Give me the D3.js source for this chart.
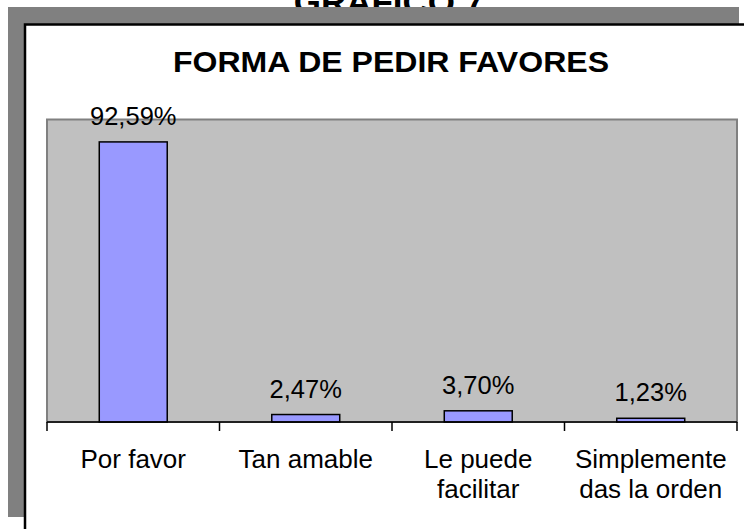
<!DOCTYPE html>
<html>
<head>
<meta charset="utf-8">
<script src="https://cdn.jsdelivr.net/npm/d3@7"></script>
<style>
  body { margin: 0; background: #ffffff; }
  text { font-family: Arial, "Liberation Sans", sans-serif; fill: #000; }
</style>
</head>
<body>
<div id="chart"></div>
<script>
// datos del grafico
var categorias = [["Por favor"], ["Tan amable"], ["Le puede", "facilitar"], ["Simplemente", "das la orden"]]
var valores = [92.59, 2.47, 3.70, 1.23]
var etiquetas = ["92,59%", "2,47%", "3,70%", "1,23%"]
var escalaY = [0, 100]

var width = 744
var height = 529

var svg = d3.select("#chart")
  .append("svg")
  .attr("width", width)
  .attr("height", height)

// titulo de la pagina (queda tapado por la sombra)
svg.append("text")
  .attr("x", 389)
  .attr("y", 14)
  .attr("text-anchor", "middle")
  .style("font-weight", "bold")
  .style("font-size", "35px")
  .text("GRAFICO 7")

// sombra gris y marco
svg.append("rect")
  .attr("x", 8).attr("y", 7)
  .attr("width", 731).attr("height", 510)
  .attr("fill", "#808080")

svg.append("rect")
  .attr("x", 25).attr("y", 24.5)
  .attr("width", 740).attr("height", 520)
  .attr("fill", "#ffffff")
  .attr("stroke", "#000")
  .attr("stroke-width", 2.5)

svg.append("text")
  .attr("x", 391)
  .attr("y", 72)
  .attr("text-anchor", "middle")
  .attr("textLength", 436)
  .attr("lengthAdjust", "spacingAndGlyphs")
  .style("font-weight", "bold")
  .style("font-size", "30px")
  .text("FORMA DE PEDIR FAVORES")

var margin = {top: 119.5, left: 47, right: 7, bottom: 107}
var plotW = width - margin.left - margin.right
var plotH = height - margin.top - margin.bottom

var g = svg.append("g")
  .attr("transform", "translate(" + margin.left + "," + margin.top + ")")

var x = d3.scaleBand()
  .domain(d3.range(categorias.length))
  .range([0, plotW])
  .padding(0)

var y = d3.scaleLinear()
  .domain(escalaY)
  .range([plotH, 0])

// area de trazado
g.append("rect")
  .attr("x", 0).attr("y", 0)
  .attr("width", plotW).attr("height", plotH)
  .attr("fill", "#c0c0c0")
  .attr("stroke", "#808080")
  .attr("stroke-width", 2)

var barW = x.bandwidth() * 0.394

g.selectAll(".bar")
  .data(valores)
  .enter()
  .append("rect")
  .attr("class", "bar")
  .attr("x", function(d, i) { return x(i) + (x.bandwidth() - barW) / 2 })
  .attr("y", function(d) { return y(d) })
  .attr("width", barW)
  .attr("height", function(d) { return y(0) - y(d) })
  .attr("fill", "#9999ff")
  .attr("stroke", "#000")
  .attr("stroke-width", 1.5)

// eje x con marcas entre categorias
var ejeX = g.append("g")
  .attr("transform", "translate(0," + plotH + ")")

ejeX.append("line")
  .attr("x1", 0).attr("x2", plotW)
  .attr("stroke", "#000").attr("stroke-width", 1.5)

ejeX.selectAll(".tick")
  .data(d3.range(categorias.length + 1))
  .enter()
  .append("line")
  .attr("x1", function(d) { return d < categorias.length ? x(d) : plotW })
  .attr("x2", function(d) { return d < categorias.length ? x(d) : plotW })
  .attr("y1", 0).attr("y2", 9)
  .attr("stroke", "#000").attr("stroke-width", 1.5)

var cat = ejeX.selectAll(".cat")
  .data(categorias)
  .enter()
  .append("text")
  .attr("class", "cat")
  .attr("text-anchor", "middle")
  .style("font-size", "26px")

cat.selectAll("tspan")
  .data(function(d, i) { return d.map(function(t) { return {t: t, i: i} }) })
  .enter()
  .append("tspan")
  .attr("x", function(d) { return x(d.i) + x.bandwidth() / 2 })
  .attr("y", function(d, j) { return 46 + j * 30 })
  .text(function(d) { return d.t })

// etiquetas de valores
g.selectAll(".label")
  .data(valores)
  .enter()
  .append("text")
  .attr("class", "label")
  .attr("text-anchor", "middle")
  .attr("x", function(d, i) { return x(i) + x.bandwidth() / 2 })
  .attr("y", function(d) { return y(d) - 17 })
  .style("font-size", "25.5px")
  .text(function(d, i) { return etiquetas[i] })
</script>
</body>
</html>
